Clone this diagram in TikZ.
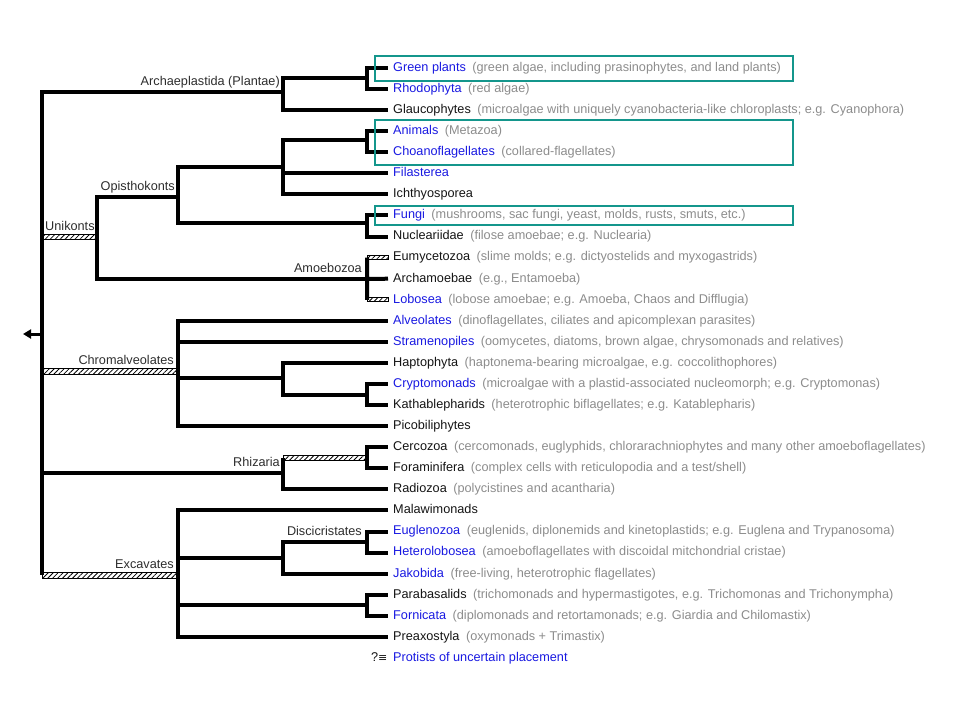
\documentclass[tikz,border=0pt]{standalone}
\usepackage{fontspec}
\setmainfont{Liberation Sans}
\newfontfamily\symfont{DejaVu Sans}
\usepackage{xcolor}
\usetikzlibrary{positioning,calc,arrows.meta,patterns.meta}

\definecolor{taxblue}{RGB}{25,25,225}
\definecolor{taxblack}{RGB}{20,20,20}
\definecolor{notegray}{RGB}{140,140,140}
\definecolor{cladegray}{RGB}{45,45,45}
\definecolor{boxteal}{RGB}{20,150,140}

\newcommand{\taxon}[1]{\textcolor{taxblue}{#1}}
\newcommand{\taxnote}[1]{\hspace{6.5pt}\textcolor{notegray}{(#1)}}

\begin{document}
\begin{tikzpicture}[x=1pt, y=-1pt, node distance=21.07pt, on grid,
    font=\fontsize{12.7}{14}\selectfont,
    leaf/.style={anchor=west, inner xsep=5pt, inner ysep=0pt, text height=9.5pt, text depth=2.8pt, text=taxblack},
    row/.style={below=of #1.west, anchor=west},
    branch/.style={line width=4pt},
    hatchbar/.style={draw=black, line width=0.7pt, pattern={Lines[angle=45, distance=3.5pt, line width=0.8pt]}},
    cladelabel/.style={inner sep=1pt, text height=9.5pt, text depth=2.8pt, text=cladegray, yshift=2.5pt},
    rootstem/.style={line width=3pt, -{Triangle[length=8pt, width=9pt]}},
    hilite/.style={draw=boxteal, line width=2.5pt}]
    \useasboundingbox (0,0) rectangle (960,720);

    % taxa
    \node[leaf] (gp) at (388,68) {\taxon{Green plants}\taxnote{green algae, including prasinophytes, and land plants}};
    \node[leaf, row=gp] (rh) {\taxon{Rhodophyta}\taxnote{red algae}};
    \node[leaf, row=rh] (gl) {Glaucophytes\taxnote{microalgae with uniquely cyanobacteria-like chloroplasts; e.g. Cyanophora}};
    \node[leaf, row=gl] (an) {\taxon{Animals}\taxnote{Metazoa}};
    \node[leaf, row=an] (ch) {\taxon{Choanoflagellates}\taxnote{collared-flagellates}};
    \node[leaf, row=ch] (fi) {\taxon{Filasterea}};
    \node[leaf, row=fi] (ic) {Ichthyosporea};
    \node[leaf, row=ic] (fu) {\taxon{Fungi}\taxnote{mushrooms, sac fungi, yeast, molds, rusts, smuts, etc.}};
    \node[leaf, row=fu] (nu) {Nucleariidae\taxnote{filose amoebae; e.g. Nuclearia}};
    \node[leaf, row=nu] (eu) {Eumycetozoa\taxnote{slime molds; e.g. dictyostelids and myxogastrids}};
    \node[leaf, row=eu] (ar) {Archamoebae\taxnote{e.g., Entamoeba}};
    \node[leaf, row=ar] (lo) {\taxon{Lobosea}\taxnote{lobose amoebae; e.g. Amoeba, Chaos and Difflugia}};
    \node[leaf, row=lo] (al) {\taxon{Alveolates}\taxnote{dinoflagellates, ciliates and apicomplexan parasites}};
    \node[leaf, row=al] (st) {\taxon{Stramenopiles}\taxnote{oomycetes, diatoms, brown algae, chrysomonads and relatives}};
    \node[leaf, row=st] (ha) {Haptophyta\taxnote{haptonema-bearing microalgae, e.g. coccolithophores}};
    \node[leaf, row=ha] (cr) {\taxon{Cryptomonads}\taxnote{microalgae with a plastid-associated nucleomorph; e.g. Cryptomonas}};
    \node[leaf, row=cr] (ka) {Kathablepharids\taxnote{heterotrophic biflagellates; e.g. Katablepharis}};
    \node[leaf, row=ka] (pi) {Picobiliphytes};
    \node[leaf, row=pi] (ce) {Cercozoa\taxnote{cercomonads, euglyphids, chlorarachniophytes and many other amoeboflagellates}};
    \node[leaf, row=ce] (fo) {Foraminifera\taxnote{complex cells with reticulopodia and a test/shell}};
    \node[leaf, row=fo] (ra) {Radiozoa\taxnote{polycistines and acantharia}};
    \node[leaf, row=ra] (ma) {Malawimonads};
    \node[leaf, row=ma] (eg) {\taxon{Euglenozoa}\taxnote{euglenids, diplonemids and kinetoplastids; e.g. Euglena and Trypanosoma}};
    \node[leaf, row=eg] (he) {\taxon{Heterolobosea}\taxnote{amoeboflagellates with discoidal mitchondrial cristae}};
    \node[leaf, row=he] (ja) {\taxon{Jakobida}\taxnote{free-living, heterotrophic flagellates}};
    \node[leaf, row=ja] (pa) {Parabasalids\taxnote{trichomonads and hypermastigotes, e.g. Trichomonas and Trichonympha}};
    \node[leaf, row=pa] (fr) {\taxon{Fornicata}\taxnote{diplomonads and retortamonads; e.g. Giardia and Chilomastix}};
    \node[leaf, row=fr] (px) {Preaxostyla\taxnote{oxymonads + Trimastix}};
    \node[leaf, row=px] (un) {\taxon{Protists of uncertain placement}};
    \node[leaf, anchor=east, inner xsep=0.5pt] (unq) at (un.west) {?{\symfont\fontsize{11}{12}\selectfont ≡}};

    % clades
    \coordinate (root) at (42,334);
    \coordinate (stemtip) at (23,334);
    \coordinate (arch) at (283,92);
    \coordinate (gr) at (367,78);
    \coordinate (uni) at (97,236.5);
    \coordinate (opis) at (178,197);
    \coordinate (holo) at (283,167);
    \coordinate (ac) at (367,140);
    \coordinate (fn) at (367,223);
    \coordinate (amoe) at (367,279);
    \coordinate (chrom) at (178,371);
    \coordinate (hk) at (283,378);
    \coordinate (ck) at (367,395);
    \coordinate (rhiz) at (283,473);
    \coordinate (cf) at (367,457.5);
    \coordinate (exc) at (178,575);
    \coordinate (disc) at (283,558);
    \coordinate (eh) at (367,542);
    \coordinate (pf) at (367,605);

    % uncertain branches
    \path[hatchbar] ($(root|-uni)+(0,-2.5)$) rectangle ($(uni)+(0,2.5)$);
    \path[hatchbar] ($(root|-chrom)+(0,-3)$) rectangle ($(chrom)+(0,3)$);
    \path[hatchbar] ($(root|-exc)+(0,-3)$) rectangle ($(exc)+(0,3)$);
    \path[hatchbar] ($(rhiz|-cf)+(0,-2.5)$) rectangle ($(cf)+(0,2.5)$);
    \path[hatchbar] ($(amoe|-eu.west)+(0,-2)$) rectangle ($(eu.west)+(0,2)$);
    \path[hatchbar] ($(amoe|-lo.west)+(0,-2)$) rectangle ($(lo.west)+(0,2)$);

    \draw[branch] (root) |- (arch) (root) |- (rhiz) (root) -- (root|-exc);
    \draw[rootstem] (root) -- (stemtip);
    \draw[branch] (arch) |- (gr) (arch) |- (gl.west);
    \draw[branch] (gr) |- (gp.west) (gr) |- (rh.west);
    \draw[branch] (uni) |- (opis) (uni) |- (amoe);
    \draw[branch] (opis) |- (holo) (opis) |- (fn);
    \draw[branch] (holo) |- (ac) (holo) |- (fi.west) (holo) |- (ic.west);
    \draw[branch] (ac) |- (an.west) (ac) |- (ch.west);
    \draw[branch] (fn) |- (fu.west) (fn) |- (nu.west);
    \draw[branch] (amoe) -- (ar.west) (amoe|-eu.west) -- (amoe|-lo.west);
    \draw[branch] (chrom) |- (al.west) (chrom) |- (st.west) (chrom) |- (hk) (chrom) |- (pi.west);
    \draw[branch] (hk) |- (ha.west) (hk) |- (ck);
    \draw[branch] (ck) |- (cr.west) (ck) |- (ka.west);
    \draw[branch] (rhiz) -- (rhiz|-cf) (rhiz) |- (ra.west);
    \draw[branch] (cf) |- (ce.west) (cf) |- (fo.west);
    \draw[branch] (exc) |- (ma.west) (exc) |- (disc) (exc) |- (pf) (exc) |- (px.west);
    \draw[branch] (disc) |- (eh) (disc) |- (ja.west);
    \draw[branch] (eh) |- (eg.west) (eh) |- (he.west);
    \draw[branch] (pf) |- (pa.west) (pf) |- (fr.west);

    % clade names
    \node[cladelabel, anchor=south east, xshift=-2pt] (archlab) at (arch) {Archaeplastida (Plantae)};
    \node[cladelabel, anchor=south west, xshift=2pt] (unilab) at (root|-uni) {Unikonts};
    \node[cladelabel, anchor=south east, xshift=-2pt] (opislab) at (opis) {Opisthokonts};
    \node[cladelabel, anchor=south east, xshift=-4pt] (amoelab) at (amoe) {Amoebozoa};
    \node[cladelabel, anchor=south east, xshift=-3pt] (chromlab) at (chrom) {Chromalveolates};
    \node[cladelabel, anchor=south east, xshift=-2pt] (rhizlab) at (rhiz) {Rhizaria};
    \node[cladelabel, anchor=south east, xshift=-3pt] (exclab) at (exc) {Excavates};
    \node[cladelabel, anchor=south east, xshift=-4pt] (disclab) at (eh) {Discicristates};

    % highlighted groups
    \draw[hilite] (375,56) rectangle (793,81);
    \draw[hilite] (375,120) rectangle (793,165);
    \draw[hilite] (375,206) rectangle (793,225);
\end{tikzpicture}
\end{document}
